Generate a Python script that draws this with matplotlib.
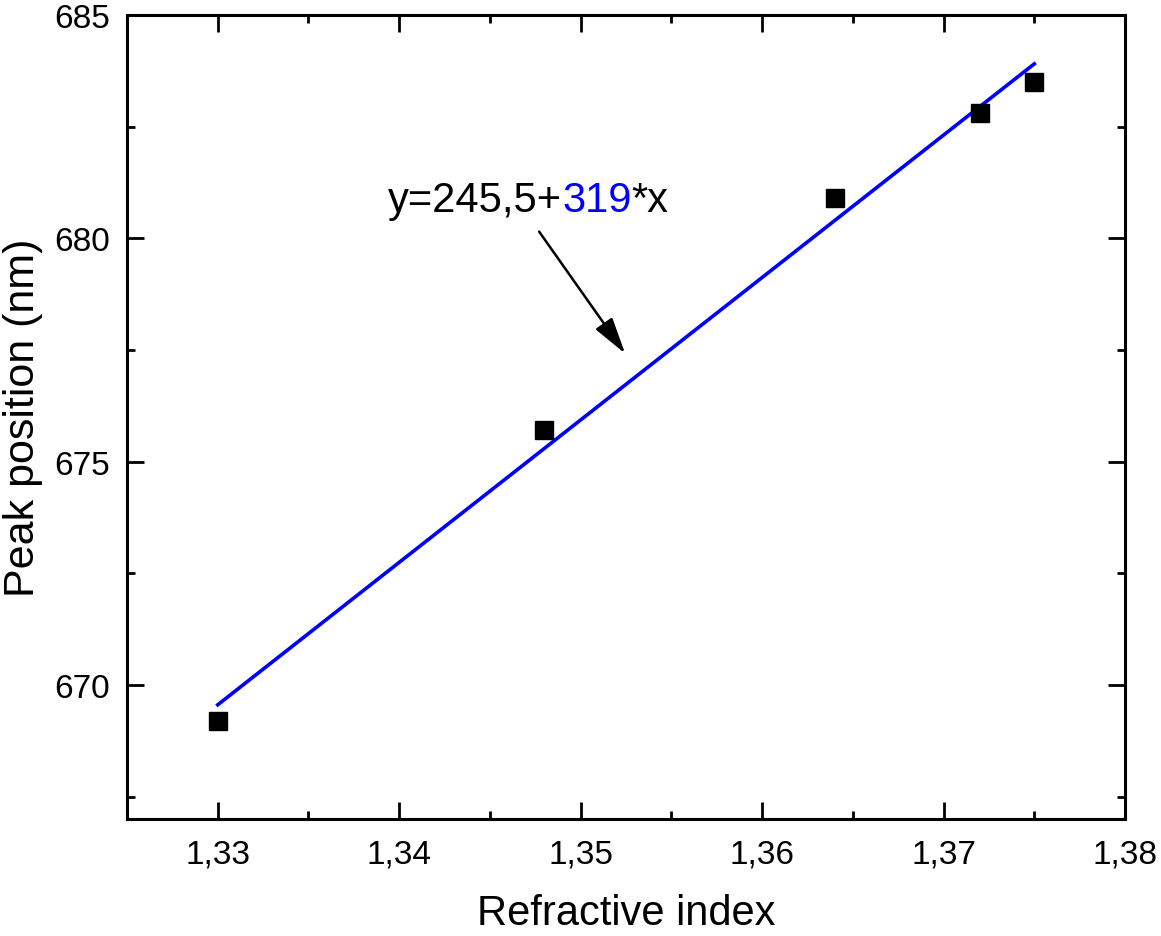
import numpy as np
import matplotlib
matplotlib.use("Agg")
import matplotlib.pyplot as plt
from matplotlib.ticker import MultipleLocator, FuncFormatter

plt.rcParams['font.family'] = ['Liberation Sans', 'DejaVu Sans']
plt.rcParams['xtick.labelsize'] = 24
plt.rcParams['ytick.labelsize'] = 24

# measured peak positions
refr_index = [1.330, 1.348, 1.364, 1.372, 1.375]
peak_pos = [669.2, 675.7, 680.9, 682.8, 683.5]

fit_label_a = "y=245,5+"
fit_label_b = "319"
fit_label_c = "*x"

# linear fit through the points
slope, intercept = np.polyfit(refr_index, peak_pos, 1)
x_fit = np.array([min(refr_index), max(refr_index)])
y_fit = intercept + slope * x_fit

fig = plt.figure(figsize=(11.61, 9.37), dpi=100)
ax = fig.add_axes([0.1094, 0.1249, 0.8596, 0.8581])

ax.plot(x_fit, y_fit, color='#0000ff', lw=2.6, zorder=2)
ax.plot(refr_index, peak_pos, 's', color='black', ms=12.5, zorder=3)

ax.set_xlim(1.325, 1.38)
ax.set_ylim(667, 685)
ax.xaxis.set_major_locator(MultipleLocator(0.01))
ax.xaxis.set_minor_locator(MultipleLocator(0.005))
ax.yaxis.set_major_locator(MultipleLocator(5))
ax.yaxis.set_minor_locator(MultipleLocator(2.5))
ax.xaxis.set_major_formatter(FuncFormatter(lambda v, p: f"{v:.2f}".replace('.', ',')))
ax.yaxis.set_major_formatter(FuncFormatter(lambda v, p: f"{v:.0f}"))

ax.tick_params(which='both', direction='in', top=True, right=True, width=2)
ax.tick_params(which='major', length=12)
ax.tick_params(which='minor', length=6)
ax.tick_params(axis='x', which='major', pad=14)
ax.tick_params(axis='y', which='major', pad=12)
for s in ax.spines.values():
    s.set_linewidth(2.2)

ax.set_xlabel("Refractive index", fontsize=30, labelpad=17)
ax.set_ylabel("Peak position (nm)", fontsize=31, labelpad=8)

# equation text with coloured slope
t1 = ax.text(1.3394, 680.62, fit_label_a, fontsize=30, ha='left', va='baseline')
t2 = ax.annotate(fit_label_b, xy=(1, 0), xycoords=t1, fontsize=30, color='#0000ff',
                 ha='left', va='bottom')
t3 = ax.annotate(fit_label_c, xy=(1, 0), xycoords=t2, fontsize=30,
                 ha='left', va='bottom')

ax.annotate("", xy=(1.35245, 677.42), xytext=(1.34771, 680.15),
            arrowprops=dict(arrowstyle='-|>,head_length=0.9,head_width=0.25',
                            color='black', lw=1.8,
                            mutation_scale=25, shrinkA=0, shrinkB=0))

fig.savefig("out.png", dpi=100)
